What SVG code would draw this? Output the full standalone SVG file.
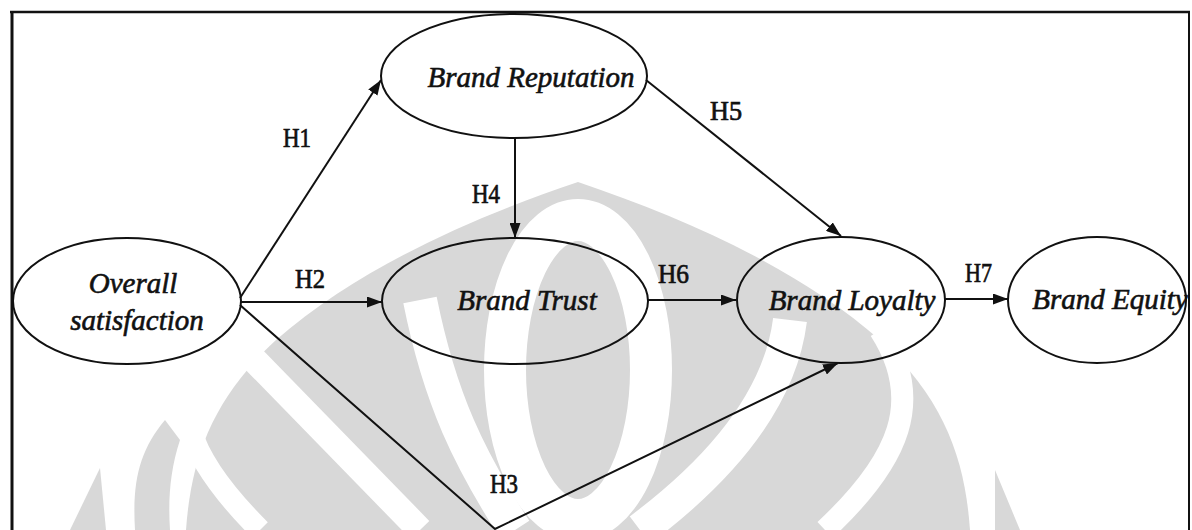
<svg xmlns="http://www.w3.org/2000/svg" width="1192" height="530" viewBox="0 0 1192 530">
  <defs>
    <marker id="arrow" markerUnits="userSpaceOnUse" markerWidth="15" markerHeight="11" refX="15" refY="5.5" orient="auto">
      <path d="M0,0 L15,5.5 L0,11 Z" fill="#111"/>
    </marker>
    <style>
      .wm { fill: #d8d8d8; }
      .wb { fill: none; stroke: #ffffff; }
      .node ellipse { fill: none; stroke: #111; stroke-width: 2; }
      .node text { font-family: "Liberation Serif", "Times New Roman", serif; font-style: italic; font-size: 29px; fill: #111; stroke: #111; stroke-width: 0.6; text-anchor: middle; }
      .edge { fill: none; stroke: #111; stroke-width: 2; marker-end: url(#arrow); }
      .lbl { font-family: "Liberation Serif", "Times New Roman", serif; font-size: 27px; fill: #111; stroke: #111; stroke-width: 0.7; }
      .frame { stroke: #111; fill: none; }
    </style>
  </defs>
  <rect x="0" y="0" width="1192" height="530" fill="#ffffff"/>

  <g id="watermark">
    <path class="wm" d="M578,182 C690,220 800,270 880,340 C945,400 965,460 970,530 L186,530 C191,460 211,400 276,340 C356,270 466,220 578,182 Z"/>
    <path class="wm" d="M70,530 L100,468 L106,530 Z"/>
    <path class="wm" d="M995,470 L1020,530 L995,530 Z"/>
    <path class="wm" d="M135,530 C132,480 140,450 165,420 L180,440 C170,470 168,500 170,530 Z"/>
    <ellipse class="wb" cx="578" cy="370" rx="73" ry="150" stroke-width="42"/>
    <path class="wb" d="M420,300 C440,400 470,460 515,530" stroke-width="34"/>
    <path class="wb" d="M790,320 C780,400 720,470 640,530" stroke-width="34"/>
    <path class="wb" d="M225,330 L420,530" stroke-width="26"/>
    <path class="wb" d="M260,530 C190,460 160,400 215,330" stroke-width="22"/>
    <path class="wb" d="M825,530 C900,460 925,400 880,330" stroke-width="22"/>
  </g>

  <g id="frame">
    <line class="frame" x1="10" y1="12" x2="1190" y2="12" stroke-width="2.5"/>
    <line class="frame" x1="12" y1="11" x2="12" y2="530" stroke-width="3"/>
    <line class="frame" x1="1189" y1="11" x2="1189" y2="530" stroke-width="2"/>
  </g>

  <g id="connectors">
    <line class="edge" x1="240" y1="298" x2="381" y2="80"/>
    <line class="edge" x1="240" y1="302" x2="382" y2="302"/>
    <polyline class="edge" points="240,305 495,529 838,363"/>
    <line class="edge" x1="515" y1="139" x2="515" y2="238"/>
    <line class="edge" x1="646" y1="80" x2="841" y2="236"/>
    <line class="edge" x1="648" y1="300" x2="736" y2="300"/>
    <line class="edge" x1="945" y1="299" x2="1008" y2="299"/>
    <text class="lbl" x="283" y="147" textLength="28" lengthAdjust="spacingAndGlyphs">H1</text>
    <text class="lbl" x="295" y="288" textLength="30" lengthAdjust="spacingAndGlyphs">H2</text>
    <text class="lbl" x="490" y="493" textLength="28" lengthAdjust="spacingAndGlyphs">H3</text>
    <text class="lbl" x="472" y="203" textLength="28" lengthAdjust="spacingAndGlyphs">H4</text>
    <text class="lbl" x="710" y="120" textLength="32" lengthAdjust="spacingAndGlyphs">H5</text>
    <text class="lbl" x="658" y="283" textLength="31" lengthAdjust="spacingAndGlyphs">H6</text>
    <text class="lbl" x="965" y="282" textLength="27" lengthAdjust="spacingAndGlyphs">H7</text>
  </g>

  <g id="node-overall-satisfaction" class="node">
    <ellipse cx="127" cy="301" rx="114" ry="63"/>
    <text x="133" y="293">Overall</text>
    <text x="137" y="330">satisfaction</text>
  </g>
  <g id="node-brand-reputation" class="node">
    <ellipse cx="514" cy="76" rx="133" ry="62"/>
    <text x="531" y="87">Brand Reputation</text>
  </g>
  <g id="node-brand-trust" class="node">
    <ellipse cx="515" cy="301" rx="133" ry="63"/>
    <text x="527" y="310">Brand Trust</text>
  </g>
  <g id="node-brand-loyalty" class="node">
    <ellipse cx="841" cy="300" rx="104" ry="63"/>
    <text x="852" y="310">Brand Loyalty</text>
  </g>
  <g id="node-brand-equity" class="node">
    <ellipse cx="1097" cy="300" rx="89" ry="63"/>
    <text x="1110" y="309">Brand Equity</text>
  </g>
</svg>
